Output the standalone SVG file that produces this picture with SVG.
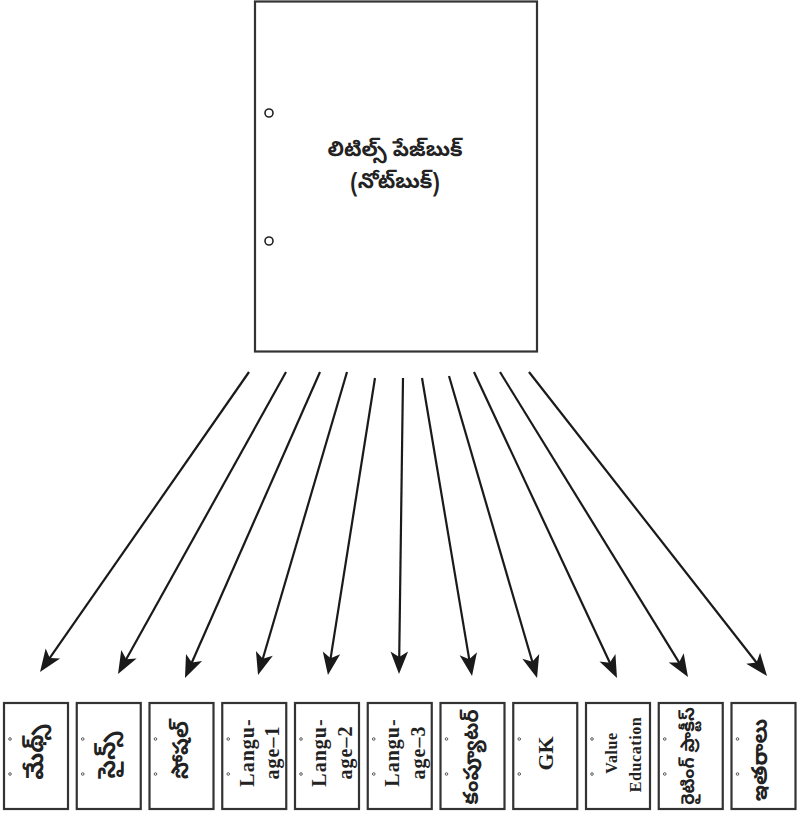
<svg xmlns="http://www.w3.org/2000/svg" width="798" height="814" viewBox="0 0 798 814">
<style>
.box{fill:#fff;stroke:#333;stroke-width:2.2}
.hole{fill:#fff;stroke:#222;stroke-width:1.6}
.dot{fill:#fff;stroke:#333;stroke-width:0.8}
.te{font-family:"Noto Sans Telugu","Noto Sans","DejaVu Sans",sans-serif;font-weight:bold;fill:#222}
.en{font-family:"Liberation Serif","DejaVu Serif",serif;font-weight:bold;fill:#222}
.con line{stroke:#1a1a1a;stroke-width:2.2;fill:none;marker-end:url(#ah)}
</style>
<defs>
<marker id="ah" markerUnits="userSpaceOnUse" markerWidth="40" markerHeight="40" refX="0" refY="0" orient="auto" overflow="visible">
<path d="M8,0 L-14.5,-8.8 L-9,0 L-14.5,8.8 Z" fill="#1a1a1a"/>
</marker>
</defs>
<g id="notebook">
<rect class="box" x="255" y="1.5" width="282" height="350"/>
<circle class="hole" cx="269" cy="113" r="4"/>
<circle class="hole" cx="269" cy="241" r="4"/>
<text class="te" x="395" y="156" font-size="21" text-anchor="middle">లిటిల్స్ పేజ్‌బుక్</text>
<text class="te" x="395" y="188" font-size="21" text-anchor="middle">(నోట్‌బుక్)</text>
</g>
<g class="con">
<line x1="249" y1="372" x2="44.6" y2="665.4"/>
<line x1="286" y1="372" x2="121.9" y2="667.0"/>
<line x1="320" y1="372" x2="188.2" y2="670.7"/>
<line x1="347" y1="372" x2="260.3" y2="667.3"/>
<line x1="375" y1="378" x2="329.2" y2="667.1"/>
<line x1="403" y1="378" x2="399.1" y2="666"/>
<line x1="422" y1="378" x2="470.7" y2="668.1"/>
<line x1="449" y1="376" x2="534.8" y2="670.3"/>
<line x1="474" y1="372" x2="613.6" y2="670.8"/>
<line x1="500" y1="372" x2="683.8" y2="670.2"/>
<line x1="529" y1="372" x2="762.1" y2="669.7"/>
</g>
<g id="b1"><rect class="box" x="4" y="703" width="64" height="106"/><circle class="dot" cx="10" cy="739" r="1.3"/><circle class="dot" cx="10" cy="774" r="1.3"/>
<text class="te" font-size="24" text-anchor="middle" dominant-baseline="central" transform="translate(38.5,752) rotate(-90)">మేథ్స్</text></g>
<g id="b2"><rect class="box" x="76.75" y="703" width="64" height="106"/><circle class="dot" cx="82.75" cy="739" r="1.3"/><circle class="dot" cx="82.75" cy="774" r="1.3"/>
<text class="te" font-size="24" text-anchor="middle" dominant-baseline="central" transform="translate(110.5,755) rotate(-90)">సైన్స్</text></g>
<g id="b3"><rect class="box" x="149.5" y="703" width="64" height="106"/><circle class="dot" cx="155.5" cy="739" r="1.3"/><circle class="dot" cx="155.5" cy="774" r="1.3"/>
<text class="te" font-size="22" text-anchor="middle" dominant-baseline="central" transform="translate(184,750) rotate(-90)">సోషల్</text></g>
<g id="b4"><rect class="box" x="222.25" y="703" width="64" height="106"/><circle class="dot" cx="228.25" cy="739" r="1.3"/><circle class="dot" cx="228.25" cy="774" r="1.3"/>
<text class="en" font-size="20" letter-spacing="1" text-anchor="middle" transform="translate(253.5,752.5) rotate(-90)">Langu-</text>
<text class="en" font-size="20" letter-spacing="1" text-anchor="middle" transform="translate(279,752.5) rotate(-90)">age–1</text></g>
<g id="b5"><rect class="box" x="295" y="703" width="64" height="106"/><circle class="dot" cx="301" cy="739" r="1.3"/><circle class="dot" cx="301" cy="774" r="1.3"/>
<text class="en" font-size="20" letter-spacing="1" text-anchor="middle" transform="translate(326.25,752.5) rotate(-90)">Langu-</text>
<text class="en" font-size="20" letter-spacing="1" text-anchor="middle" transform="translate(351.75,752.5) rotate(-90)">age–2</text></g>
<g id="b6"><rect class="box" x="367.75" y="703" width="64" height="106"/><circle class="dot" cx="373.75" cy="739" r="1.3"/><circle class="dot" cx="373.75" cy="774" r="1.3"/>
<text class="en" font-size="20" letter-spacing="1" text-anchor="middle" transform="translate(399,752.5) rotate(-90)">Langu-</text>
<text class="en" font-size="20" letter-spacing="1" text-anchor="middle" transform="translate(424.5,752.5) rotate(-90)">age–3</text></g>
<g id="b7"><rect class="box" x="440.5" y="703" width="64" height="106"/><circle class="dot" cx="446.5" cy="739" r="1.3"/><circle class="dot" cx="446.5" cy="774" r="1.3"/>
<text class="te" font-size="21" text-anchor="middle" dominant-baseline="central" transform="translate(474,757) rotate(-90)">కంప్యూటర్</text></g>
<g id="b8"><rect class="box" x="513.25" y="703" width="64" height="106"/><circle class="dot" cx="519.25" cy="739" r="1.3"/><circle class="dot" cx="519.25" cy="774" r="1.3"/>
<text class="en" font-size="22" text-anchor="middle" transform="translate(553,753.5) rotate(-90)">GK</text></g>
<g id="b9"><rect class="box" x="586" y="703" width="64" height="106"/><circle class="dot" cx="592" cy="739" r="1.3"/><circle class="dot" cx="592" cy="774" r="1.3"/>
<text class="en" font-size="16" letter-spacing="0.6" text-anchor="middle" transform="translate(617,753) rotate(-90)">Value</text>
<text class="en" font-size="16" letter-spacing="0.6" text-anchor="middle" transform="translate(641,754.5) rotate(-90)">Education</text></g>
<g id="b10"><rect class="box" x="658.75" y="703" width="64" height="106"/><circle class="dot" cx="664.75" cy="739" r="1.3"/><circle class="dot" cx="664.75" cy="774" r="1.3"/>
<text class="te" font-size="18" text-anchor="middle" dominant-baseline="central" transform="translate(690.5,756) rotate(-90)">రైటింగ్ ప్రాక్టీస్</text></g>
<g id="b11"><rect class="box" x="731.5" y="703" width="64" height="106"/><circle class="dot" cx="737.5" cy="739" r="1.3"/><circle class="dot" cx="737.5" cy="774" r="1.3"/>
<text class="te" font-size="22" text-anchor="middle" dominant-baseline="central" transform="translate(763,760) rotate(-90)">ఇతరాలు</text></g>
</svg>
